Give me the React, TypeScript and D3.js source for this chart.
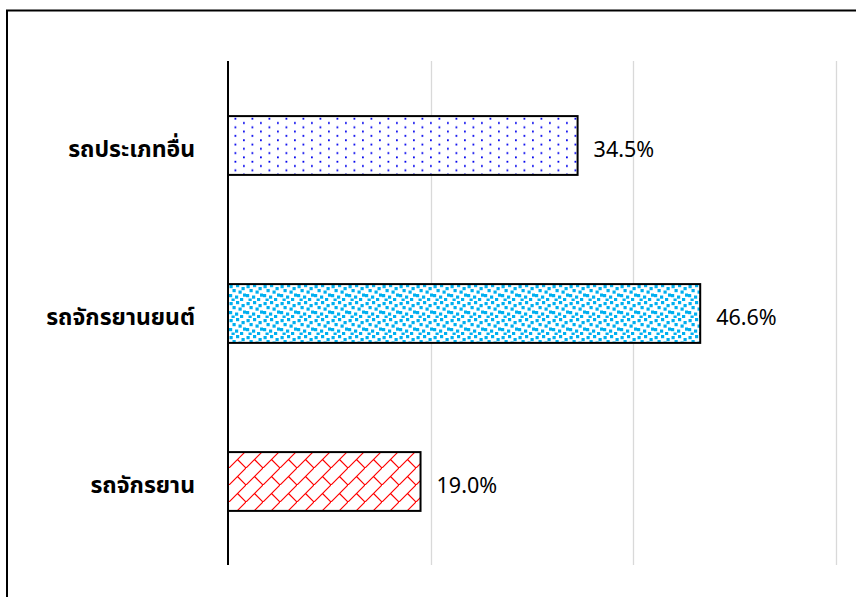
import React from "react";
import * as d3 from "d3";

const categories = ["รถประเภทอื่น", "รถจักรยานยนต์", "รถจักรยาน"];
const values = [34.5, 46.6, 19.0];
const valueLabels = ["34.5%", "46.6%", "19.0%"];
const patternIds = ["dots", "confetti", "brick"];
const gridTicks = [20, 40, 60];

const W = 856;
const H = 597;

export default function App() {
  const x = d3.scaleLinear().domain([0, 60]).range([228, 836]);
  const y = d3
    .scaleBand<string>()
    .domain(categories)
    .range([61.5, 565.5])
    .paddingInner(0.65)
    .paddingOuter(0.325);

  const confettiSquares: [number, number][] = [
    [0.5, 1], [7, 0], [12.5, 3], [3.5, 5], [9.5, 6.5], [0, 10], [14, 9.5], [6, 11.5], [11, 14], [2.5, 14.5],
  ];

  return (
    <svg
      width={W}
      height={H}
      style={{ position: "absolute", left: 0, top: 0, background: "#fff" }}
    >
      <defs>
        <pattern id="dots" patternUnits="userSpaceOnUse" width={17} height={8.6} x={229} y={117}>
          <rect x={0} y={0} width={17} height={8.6} fill="#fff" />
          <rect x={5.5} y={0.8} width={1.8} height={1.8} fill="#0000ee" />
          <rect x={14} y={5.1} width={1.8} height={1.8} fill="#0000ee" />
        </pattern>
        <pattern id="confetti" patternUnits="userSpaceOnUse" width={17} height={17} x={229} y={284}>
          <rect x={0} y={0} width={17} height={17} fill="#fff" />
          {confettiSquares.map(([a, b], i) => (
            <rect key={i} x={a} y={b} width={3.2} height={3.2} fill="#00b0f0" />
          ))}
        </pattern>
        <pattern id="brick" patternUnits="userSpaceOnUse" width={17} height={17} x={229} y={451}>
          <rect x={0} y={0} width={17} height={17} fill="#fff" />
          <path
            d="M-1,18 L18,-1 M8.5,8.5 L17,17 M-8.5,8.5 L0,17"
            stroke="#ff0000"
            strokeWidth={1.2}
            fill="none"
          />
        </pattern>
      </defs>

      {/* outer border */}
      <rect x={7} y={10.5} width={870} height={620} fill="none" stroke="#000" strokeWidth={2} />

      {/* gridlines */}
      {gridTicks.map((t) => (
        <line
          key={t}
          x1={Math.round(x(t)) + 0.5}
          x2={Math.round(x(t)) + 0.5}
          y1={61}
          y2={565}
          stroke="#d9d9d9"
          strokeWidth={1.3}
        />
      ))}

      {/* bars */}
      {categories.map((c, i) => (
        <rect
          key={c}
          x={x(0)}
          y={y(c)}
          width={x(values[i]) - x(0)}
          height={y.bandwidth()}
          fill={`url(#${patternIds[i]})`}
          stroke="#000"
          strokeWidth={2}
        />
      ))}

      {/* axis line */}
      <line x1={x(0)} x2={x(0)} y1={61} y2={565} stroke="#000" strokeWidth={2} />

      {/* category labels */}
      {categories.map((c) => (
        <text
          key={c}
          x={195}
          y={(y(c) as number) + y.bandwidth() / 2 + 4}
          textAnchor="end"
          dominantBaseline="central"
          fontFamily="Tahoma, 'Noto Sans Thai', 'Noto Sans', sans-serif"
          fontWeight="bold"
          fontSize={23}
          fill="#000"
        >
          {c}
        </text>
      ))}

      {/* value labels */}
      {categories.map((c, i) => (
        <text
          key={c}
          x={x(values[i]) + 16}
          y={(y(c) as number) + y.bandwidth() / 2 + 3}
          dominantBaseline="central"
          fontFamily="Tahoma, 'Noto Sans', 'DejaVu Sans', sans-serif"
          fontSize={21.5}
          fill="#000"
        >
          {valueLabels[i]}
        </text>
      ))}
    </svg>
  );
}
